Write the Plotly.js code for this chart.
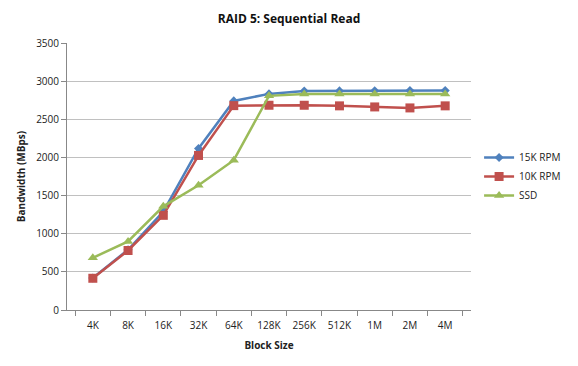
<!DOCTYPE html>
<html><head><meta charset="utf-8">
<script src="https://cdn.plot.ly/plotly-3.0.1.min.js"></script>
<style>html,body{margin:0;padding:0;background:#fff}#c{width:578px;height:366px;outline:1px solid #a0a0a0;outline-offset:-1px}</style>
</head><body><div id="c"></div>
<script>
const blockSizes = ["4K","8K","16K","32K","64K","128K","256K","512K","1M","2M","4M"];
const rpm15k = [420, 790, 1290, 2118, 2741, 2833, 2870, 2872, 2874, 2876, 2876];
const rpm10k = [416, 780, 1241, 2026, 2679, 2684, 2684, 2676, 2662, 2649, 2676];
const ssd = [684, 899, 1359, 1636, 1964, 2807, 2833, 2833, 2833, 2833, 2833];
const seriesNames = ["15K RPM","10K RPM","SSD"];

const font = "Open Sans, Liberation Sans, sans-serif";
const traces = [
  {x: blockSizes, y: rpm15k, name: seriesNames[0], mode: "lines+markers",
   line: {color: "#4F81BD", width: 2.5}, marker: {symbol: "diamond", size: 7, color: "#4F81BD"}},
  {x: blockSizes, y: rpm10k, name: seriesNames[1], mode: "lines+markers",
   line: {color: "#C0504D", width: 2.5}, marker: {symbol: "square", size: 9, color: "#C0504D"}},
  {x: blockSizes, y: ssd, name: seriesNames[2], mode: "lines+markers",
   line: {color: "#9BBB59", width: 2.5}, marker: {symbol: "triangle-up", size: 9, color: "#9BBB59"}}
];
const layout = {
  width: 578, height: 366,
  margin: {l: 67, r: 103, t: 43, b: 56},
  paper_bgcolor: "#fff", plot_bgcolor: "#fff",
  font: {family: font, size: 10, color: "#222"},
  title: {text: "<b>RAID 5: Sequential Read</b>", font: {size: 12, family: font, color: "#111"}, x: 0.5, xanchor: "center", y: 0.95, yanchor: "middle"},
  xaxis: {type: "category", title: {text: "<b>Block Size</b>", font: {size: 10}, standoff: 10},
    showgrid: false, showline: true, linecolor: "#888", linewidth: 1,
    ticks: "outside", tickson: "boundaries", ticklen: 5, tickcolor: "#888", zeroline: false,
    ticklabelstandoff: 6},
  yaxis: {title: {text: "<b>Bandwidth (MBps)</b>", font: {size: 10}, standoff: 8},
    range: [0, 3500], dtick: 500, showgrid: true, gridcolor: "#c0c0c0", gridwidth: 1,
    showline: true, linecolor: "#888", ticks: "outside", ticklen: 5, tickcolor: "#888", zeroline: false},
  legend: {x: 1.02, xanchor: "left", y: 0.5, yanchor: "middle", font: {size: 10}, bgcolor: "rgba(0,0,0,0)", itemwidth: 30, tracegroupgap: 8},
  showlegend: true
};
Plotly.newPlot("c", traces, layout, {displayModeBar: false, staticPlot: true});
</script></body></html>
